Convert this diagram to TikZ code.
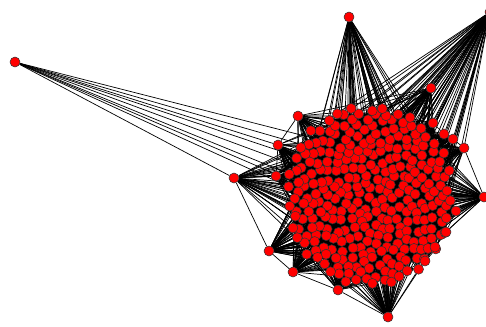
\documentclass[tikz,border=0pt]{standalone}
\usetikzlibrary{positioning}
\pgfdeclarelayer{links}
\pgfsetlayers{links,main}
\tikzset{
    vertex/.style={circle,draw=black!80,fill=red,line width=0.3pt,inner sep=0pt,minimum size=0.2cm},
    link/.style={draw=black,line width=0.4pt}
}
\newcommand{\nclu}{300}

\begin{document}
\begin{tikzpicture}[x=0.02cm,y=-0.02cm]
\useasboundingbox (0,0) rectangle (486,326);
\pgfmathsetseed{17}

% Cluster
\foreach \i in {1,...,\nclu} {
    \pgfmathsetmacro{\rr}{sqrt((\i-0.5)/\nclu)}
    \pgfmathsetmacro{\fr}{\i*0.381966-floor(\i*0.381966)}
    \pgfmathsetmacro{\aa}{360*\fr}
    \pgfmathsetmacro{\xx}{370+84*\rr*cos(\aa)+2*rand}
    \pgfmathsetmacro{\yy}{196+91*\rr*sin(\aa)+2*rand}
    \node[vertex] (c\i) at (\xx,\yy) {};
}

% Outer vertices
\node[vertex] (a) at (15,62) {};
\node[vertex] (b) at (349,17) {};
\node[vertex] (c) at (490,12) {};
\node[vertex] (d) at (298,116) {};
\node[vertex] (e) at (278,145) {};
\node[vertex] (f) at (431,88) {};
\node[vertex] (g) at (433,123) {};
\node[vertex] (h1) at (444,134) {};
\node[vertex] (h2) at (453,139) {};
\node[vertex] (h3) at (464,148) {};
\node[vertex] (i) at (234,178) {};
\node[vertex] (q) at (276,176) {};
\node[vertex] (j) at (484,197) {};
\node[vertex] (k) at (269,251) {};
\node[vertex] (l) at (293,272) {};
\node[vertex] (m) at (338,290) {};
\node[vertex] (n) at (388,317) {};
\node[vertex] (p1) at (425,261) {};
\node[vertex] (p2) at (435,247) {};
\node[vertex] (p3) at (446,232) {};
\node[vertex] (p4) at (456,211) {};

% Links
\begin{pgfonlayer}{links}
\foreach \i in {1,...,\nclu} {
    \foreach \k in {1,...,7} {
        \pgfmathtruncatemacro{\j}{random(1,\nclu)}
        \draw[link] (c\i) -- (c\j);
    }
}
\foreach \p/\cnt in {b/50,c/60,d/50,e/50,f/40,g/40,h1/40,h2/40,h3/40,i/40,q/50,j/60,k/60,l/60,m/60,n/70,p1/50,p2/50,p3/50,p4/50} {
    \foreach \k in {1,...,\cnt} {
        \pgfmathtruncatemacro{\j}{random(1,\nclu)}
        \draw[link] (\p) -- (c\j);
    }
}
\foreach \i in {1,...,\nclu} {
    \pgfmathsetmacro{\aa}{360*(\i*0.381966-floor(\i*0.381966))}
    \pgfmathtruncatemacro{\ok}{(\aa>185)*(\aa<232)*(\i>120)*(rnd<0.3)}
    \ifnum\ok=1 \draw[link] (a) -- (c\i); \fi
}
\draw[link] (a) -- (i);
\draw[link] (a) -- (e);
\foreach \u/\v in {d/f,e/d,q/e,i/q,i/k,k/l,l/m,m/n,n/p1,p1/p2,p2/p3,p3/p4,p4/j,j/h3,h3/h2,h2/h1,h1/g,g/f,c/f,c/g,c/h1,c/h2,c/h3}
    \draw[link] (\u) -- (\v);
\end{pgfonlayer}
\end{tikzpicture}
\end{document}
